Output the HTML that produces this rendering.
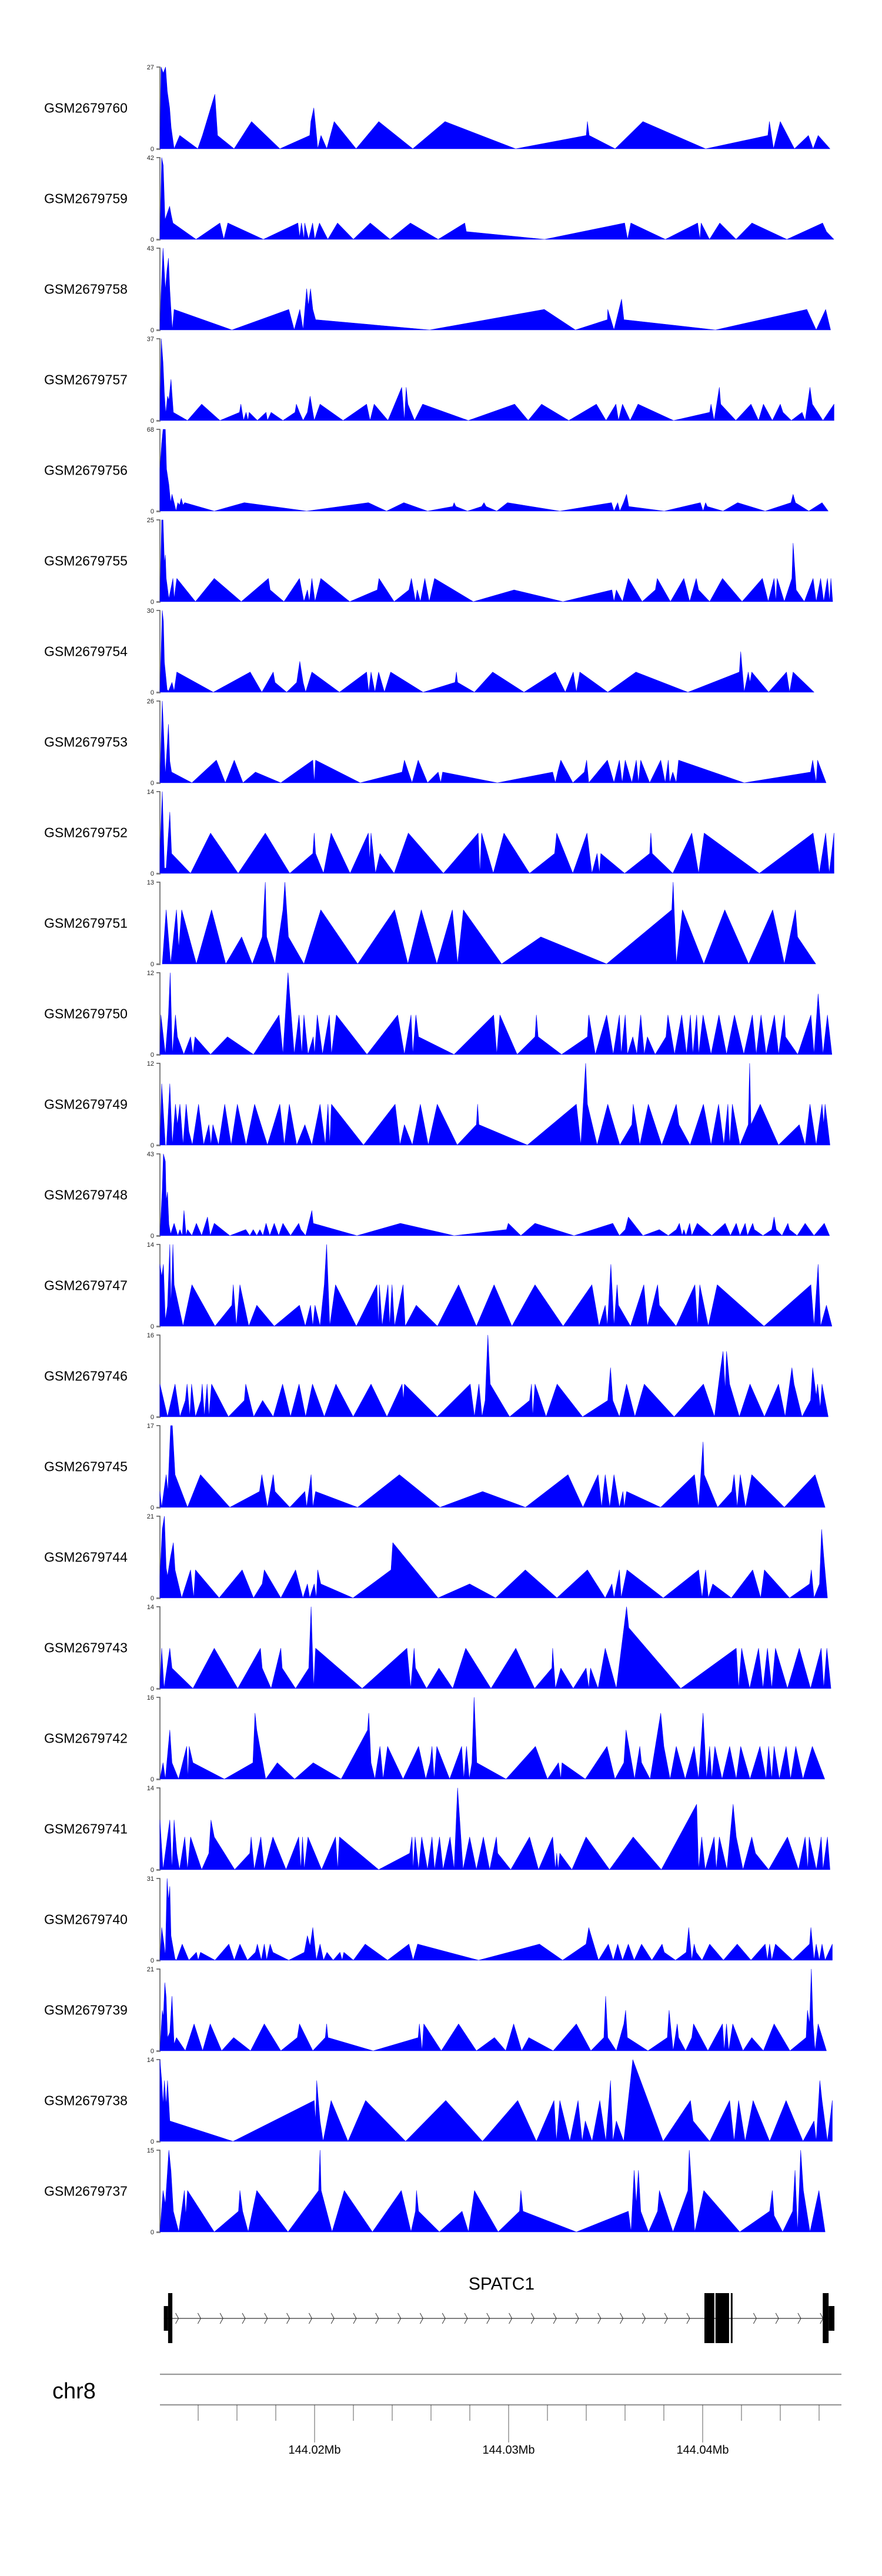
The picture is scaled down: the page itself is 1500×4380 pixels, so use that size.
<!DOCTYPE html>
<html><head><meta charset="utf-8"><title>Coverage tracks - SPATC1</title>
<style>
html,body{margin:0;padding:0;background:#fff;}
svg{display:block;font-family:"Liberation Sans",Arial,sans-serif;}
</style></head>
<body>
<svg id="chart" width="1500" height="4380" viewBox="0 0 1500 4380" xmlns="http://www.w3.org/2000/svg">
<rect x="0" y="0" width="1500" height="4380" fill="#fff"/>
<g id="tracks"></g>
<g id="gene"></g>
<g id="axis"></g>
</svg>
<script>
const sampleNames = ["GSM2679760","GSM2679759","GSM2679758","GSM2679757","GSM2679756","GSM2679755","GSM2679754","GSM2679753","GSM2679752","GSM2679751","GSM2679750","GSM2679749","GSM2679748","GSM2679747","GSM2679746","GSM2679745","GSM2679744","GSM2679743","GSM2679742","GSM2679741","GSM2679740","GSM2679739","GSM2679738","GSM2679737"];
const maxValues = [27,42,43,37,68,25,30,26,14,13,12,12,43,14,16,17,21,14,16,14,31,21,14,15];

const pos0=[12.03,12.09,12.20,12.32,12.41,12.53,12.61,12.76,13.05,13.98,14.22,14.86,15.00,15.85,16.75,18.21,19.75,19.81,19.96,20.10,20.16,20.33,20.63,21.01,22.14,23.31,25.06,26.72,30.36,34.00,34.06,34.15,35.49,36.92,40.15,43.36,43.44,43.65,44.00,44.73,45.45,45.69,45.95,46.56];
const val0=[0,27,25,27,19,13.5,7,0,4.4,0,4.4,18,4.4,0,9,0,4.4,9,13.5,4.4,0,4.4,0,9,0,9,0,9,0,4.4,9,4.4,0,9,0,4.4,9,0,9,0,4.4,0,4.4,0];
const pos1=[12.03,12.12,12.20,12.29,12.53,12.61,12.70,13.89,15.12,15.32,15.53,17.36,19.14,19.23,19.32,19.46,19.49,19.69,19.90,20.01,20.25,20.68,21.18,22.00,22.87,23.89,24.94,26.37,27.74,27.82,31.85,35.98,36.13,36.30,38.08,39.74,39.86,39.92,40.35,40.88,41.72,42.54,44.34,46.18,46.38,46.76];
const val1=[0,42,38,10,17,12.6,8.4,0,8.4,0,8.4,0,8.4,1,8.4,0,8.4,0,8.4,0,8.4,0,8.4,0,8.4,0,8.4,0,8.4,4,0,8.4,0,8.4,0,8.4,0,8.4,0,8.4,0,8.4,0,8.4,4,0];
const pos2=[12.03,12.08,12.19,12.31,12.40,12.47,12.54,12.60,12.67,12.76,15.74,18.67,18.95,19.24,19.41,19.59,19.68,19.79,19.91,20.05,25.93,31.84,33.44,35.09,35.11,35.43,35.82,35.94,40.66,45.37,45.85,46.34,46.59];
const val2=[0,17.8,43,21,32,37.7,21,10.6,0,10.8,0,10.8,0,10.8,0,21.7,12.6,21.7,10.8,5.4,0,10.8,0,5.4,10.8,0,16.2,5.4,0,10.8,0,10.8,0];
const pos3=[12.03,12.10,12.19,12.26,12.33,12.42,12.49,12.60,12.72,13.45,14.18,15.12,16.13,16.20,16.34,16.47,16.57,16.63,17.05,17.50,17.57,17.76,18.37,18.99,19.06,19.22,19.41,19.63,19.77,19.98,20.28,21.47,22.68,22.86,23.07,23.78,24.49,24.63,24.72,24.81,25.15,25.57,27.92,30.31,31.01,31.70,33.10,34.52,35.02,35.53,35.66,35.87,36.26,36.67,38.50,40.36,40.43,40.59,40.86,40.93,41.71,42.49,42.88,43.13,43.59,44.00,44.14,44.57,45.12,45.28,45.53,45.65,46.20,46.77];
const val3=[0,37,26,11.9,3,11,9.2,18.6,3.7,0,7.4,0,3.7,7.4,0,3.7,0,3.7,0,3.7,0,3.7,0,3.7,7.4,3.7,0,3.7,11,0,7.4,0,7.4,0,7.4,0,15,0,15,7.4,0,7.4,0,7.4,0,7.4,0,7.4,0,7.4,0,7.4,0,7.4,0,3.7,7.4,0,15,7.4,0,7.4,0,7.4,0,7.4,3.7,0,3.7,0,15,7.4,0,7.4];
const pos4=[12.03,12.12,12.19,12.31,12.37,12.49,12.58,12.65,12.76,12.86,12.95,13.04,13.13,13.22,13.31,14.83,16.38,19.59,22.77,23.71,24.60,25.82,27.12,27.19,27.28,27.88,28.61,28.73,28.84,29.39,29.94,32.64,35.30,35.43,35.62,35.73,35.92,36.08,36.19,38.02,39.88,40.02,40.15,40.24,41.05,41.80,43.22,44.55,44.66,44.78,45.47,46.15,46.47];
const val4=[35,56.5,68,68,35,22,7,14,7,0,7,5,10.6,5,7,0,7,0,7,0,7,0,3.8,7,3.8,0,3.8,7,3.8,0,7,0,7,0,7,0,7,14,3.8,0,7,0,7,3.8,0,7,0,7,14,7,0,7,0];
const pos5=[12.03,12.12,12.19,12.26,12.31,12.35,12.49,12.70,12.76,12.90,13.86,14.83,16.22,17.62,17.71,18.42,19.22,19.45,19.63,19.73,19.86,20.02,20.32,21.81,23.23,23.32,24.10,24.86,24.99,25.20,25.29,25.45,25.68,25.91,26.18,28.18,30.28,32.80,35.32,35.43,35.55,35.87,36.17,36.88,37.56,37.66,38.34,39.03,39.33,39.67,39.79,40.36,41.02,42.03,43.08,43.38,43.68,43.77,43.84,44.21,44.60,44.66,44.82,45.24,45.69,45.85,46.08,46.24,46.43,46.54,46.61,46.70];
const val5=[0,25,25,11.7,14.3,7.2,0.9,7.1,0.9,7.1,0,7.1,0,7.1,3.6,0,7.1,0,3.6,0,7.1,0,7.1,0,3.6,7.1,0,3.6,7.1,0,3.6,0,7.1,0,7.1,0,3.6,0,3.6,0,3.6,0,7.1,0,3.6,7.1,0,7.1,0,7.1,3.6,0,7.1,0,7.1,0,7.1,0,7.1,0,7.1,17.9,3.6,0,7.1,0,7.1,0,7.1,0,7.1,0];
const pos6=[12.03,12.15,12.21,12.26,12.40,12.47,12.65,12.76,12.90,14.78,16.68,17.28,17.87,17.96,18.56,19.08,19.24,19.41,19.54,19.86,21.28,22.68,22.79,22.91,23.11,23.30,23.60,23.92,25.59,27.24,27.31,27.37,28.24,29.18,30.79,32.41,32.92,33.33,33.49,33.67,35.11,36.56,39.24,41.89,41.96,42.14,42.35,42.44,42.53,43.40,44.32,44.48,44.66,45.74];
const val6=[0,30,26,11,1,0.4,3.6,0.4,7.4,0,7.4,0,7.4,3.6,0,3.6,11.3,3.6,0,7.4,0,7.4,0,7.4,0,7.4,0,7.4,0,3.6,7.4,3.6,0,7.4,0,7.4,0,7.4,0,7.4,0,7.4,0,7.4,14.9,0,7.4,3.6,7.4,0,7.4,0,7.4,0];
const pts7=[[12.03,0],[12.15,26],[12.21,17.6],[12.31,2.4],[12.40,11.3],[12.47,18.6],[12.54,6.8],[12.63,3.4],[13.68,0],[14.94,7.2],[15.40,0],[15.86,7.2],[16.31,0],[16.95,3.4],[18.26,0],[19.91,7.2],[19.98,0],[20.05,7.2],[22.35,0],[24.51,3.4],[24.63,7.2],[25.02,0],[25.34,7.2],[25.82,0],[26.37,3.4],[26.50,0],[26.60,3.4],[29.42,0],[32.27,3.4],[32.41,0],[32.53,3.4],[32.69,7.2],[33.31,0],[33.90,3.4],[34.02,7.2],[34.13,0],[35.09,7.2],[35.43,0],[35.71,7.2],[35.85,0],[36.01,7.2],[36.35,0],[36.58,7.2],[36.69,0],[36.81,7.2],[37.27,0],[37.84,7.2],[38.07,0],[38.23,7.2],[38.30,0],[38.46,3.4],[38.64,0],[38.76,7.2],[42.14,0],[45.56,3.4],[45.67,7.2],[45.85,0],[45.92,7.2],[46.36,0]];
const pos8=[12.03,12.15,12.26,12.35,12.54,12.63,13.61,14.64,16.06,17.46,18.72,19.91,19.98,20.05,20.46,20.85,21.83,22.77,22.84,22.91,23.14,23.37,24.10,24.83,26.64,28.43,28.52,28.61,29.21,29.76,31.08,32.37,32.48,33.31,34.04,34.29,34.56,34.68,34.75,35.98,37.27,37.33,37.40,38.46,39.44,39.79,40.08,42.92,45.69,46.01,46.34,46.52,46.77];
const val8=[3.4,14,0.9,0.9,10.5,3.4,0,6.9,0,6.9,0,3.4,6.9,3.4,0,6.9,0,6.9,2.1,6.9,0,3.4,0,6.9,0,6.9,0,6.9,0,6.9,0,3.4,6.9,0,6.9,0,3.4,0,3.4,0,3.4,6.9,3.4,0,6.9,0,6.9,0,6.9,0,6.9,0,6.9];
const pos9=[12.15,12.35,12.58,12.88,13.00,13.15,13.91,14.69,15.42,16.24,16.79,17.30,17.46,17.53,17.96,18.37,18.47,18.65,19.45,20.32,22.22,24.12,24.81,25.50,26.30,27.10,27.37,27.67,29.64,31.66,35.05,38.41,38.48,38.64,38.96,40.06,41.14,42.37,43.61,44.21,44.78,44.89,45.83];
const val9=[0,8.6,0,8.6,2.5,8.6,0,8.6,0,4.3,0,4.3,13,4.3,0,8.6,13,4.3,0,8.6,0,8.6,0,8.6,0,8.6,0,8.6,0,4.3,0,8.6,13,0,8.6,0,8.6,0,8.6,0,8.6,4.3,0];
const pos10=[12.03,12.08,12.31,12.47,12.56,12.67,12.83,12.93,13.26,13.61,13.73,13.84,14.64,15.51,16.85,18.17,18.37,18.63,18.95,19.20,19.34,19.45,19.66,19.93,20.00,20.14,20.41,20.76,20.87,21.12,22.70,24.28,24.63,24.97,25.06,25.22,25.36,27.19,29.23,29.39,29.55,30.44,31.36,31.43,31.52,32.73,34.06,34.13,34.47,35.05,35.39,35.71,35.80,36.01,36.12,36.40,36.61,36.81,36.99,37.15,37.55,38.11,38.21,38.55,38.92,39.17,39.37,39.49,39.69,39.79,40.02,40.43,40.84,41.23,41.64,42.12,42.56,42.76,43.01,43.27,43.70,43.91,44.21,44.27,44.90,45.58,45.74,45.95,46.20,46.43,46.66];
const val10=[0,5.8,0,5.8,12,0,5.8,2.6,0,2.6,0,2.6,0,2.6,0,5.8,0,12,0,5.8,0,5.8,0,2.6,0,5.8,0,5.8,0,5.8,0,5.8,0,5.8,0,5.8,2.6,0,5.8,0,5.8,0,2.6,5.8,2.6,0,2.6,5.8,0,5.8,0,5.8,0,5.8,0,2.6,0,5.8,0,2.6,0,2.6,5.8,0,5.8,0,5.8,0,5.8,0,5.8,0,5.8,0,5.8,0,5.8,0,5.8,0,5.8,0,5.8,2.6,0,5.8,0,8.9,0,5.8,0];
const pos11=[12.03,12.12,12.31,12.37,12.54,12.67,12.83,12.93,13.06,13.22,13.38,13.52,13.70,14.02,14.28,14.55,14.66,14.76,15.05,15.37,15.70,16.02,16.47,16.91,17.57,18.21,18.44,18.70,19.08,19.50,19.86,20.28,20.55,20.69,20.78,20.87,22.52,24.15,24.40,24.63,25.04,25.45,25.86,26.32,27.35,28.34,28.40,28.47,30.97,33.49,33.72,33.97,34.06,34.56,35.11,35.73,36.35,36.42,36.76,37.20,37.89,38.64,38.78,39.35,40.04,40.43,40.82,41.09,41.30,41.39,41.53,41.92,42.35,42.42,42.49,42.97,43.91,44.98,45.28,45.53,45.85,46.15,46.24,46.31,46.56];
const val11=[0,9,0,0,9,0,6,3,6,0,6,2,0,6,0,3,0,3,0,6,0,6,0,6,0,6,0,6,0,3,0,6,0,6,0,6,0,6,0,3,0,6,0,6,0,3,6,3,0,6,0,12,6,0,6,0,3,6,0,6,0,6,3,0,6,0,6,0,6,0,6,0,3,12,3,6,0,3,0,6,0,6,3,6,0];
const pos12=[12.03,12.15,12.21,12.31,12.35,12.42,12.49,12.58,12.76,12.95,13.06,13.18,13.27,13.38,13.45,13.68,13.91,14.18,14.48,14.62,14.83,15.63,16.45,16.66,16.84,17.02,17.18,17.34,17.50,17.69,17.92,18.15,18.37,18.76,19.18,19.29,19.54,19.86,19.93,22.18,24.42,27.19,29.89,29.98,30.63,31.36,33.37,35.37,35.71,36.01,36.17,36.92,37.77,38.23,38.64,38.80,38.94,39.03,39.14,39.33,39.44,39.72,40.47,41.16,41.43,41.73,41.92,42.19,42.31,42.58,42.67,43.11,43.56,43.68,43.79,44.09,44.39,44.48,44.87,45.28,45.74,46.27,46.54];
const val12=[0,24.6,43,39,18.4,23,6,0.8,6.5,0,3.2,0,13.2,0,3.2,0,6.5,0,9.8,0,6.5,0,3.2,0,3.2,0,3.2,0,6.5,0,6.5,0,6.5,0,6.5,3.2,0,13.2,6.5,0,6.5,0,3.2,6.5,0,6.5,0,6.5,0,3.2,9.8,0,3.2,0,3.2,6.5,0,3.2,0,6.5,0,6.5,0,6.5,0,6.5,0,6.5,0,6.5,3.2,0,3.2,9.8,3.2,0,6.5,3.2,0,6.5,0,6.5,0];
const pts13=[[12.03,10.6],[12.12,8.5],[12.21,10.6],[12.31,1],[12.42,3.5],[12.54,14],[12.60,3.5],[12.70,14],[12.76,7.1],[13.22,0],[13.68,7.1],[14.87,0],[15.74,3.6],[15.81,7.1],[15.97,0],[16.15,7.1],[16.61,0],[17.02,3.6],[17.92,0],[19.22,3.6],[19.52,0],[19.79,3.6],[19.91,0],[20.02,3.6],[20.28,0],[20.50,7.1],[20.62,14],[20.78,0],[21.08,7.1],[22.15,0],[23.21,7.1],[23.30,0],[23.34,7.1],[23.48,0],[23.78,7.1],[23.87,0],[23.99,7.1],[24.12,0],[24.56,7.1],[24.67,0],[25.24,3.6],[26.33,0],[27.42,7.1],[28.34,0],[29.25,7.1],[30.17,0],[31.36,7.1],[32.81,0],[34.29,7.1],[34.66,0],[34.98,3.6],[35.09,0],[35.27,10.6],[35.43,0],[35.59,7.1],[35.66,3.6],[36.28,0],[36.97,7.1],[37.15,0],[37.68,7.1],[37.77,3.6],[38.63,0],[39.60,7.1],[39.74,0],[39.85,7.1],[40.29,0],[40.75,7.1],[43.16,0],[45.58,7.1],[45.74,0],[45.95,10.6],[46.08,0],[46.38,3.6],[46.66,0]];
const pos14=[12.03,12.42,12.81,13.06,13.34,13.43,13.57,13.66,13.86,14.14,14.21,14.32,14.46,14.55,14.69,15.56,16.38,16.45,16.86,17.32,17.87,18.35,18.76,19.20,19.54,19.89,20.50,21.10,21.99,22.91,23.73,24.51,24.58,24.63,26.32,28.02,28.24,28.47,28.63,28.79,28.93,29.05,30.05,31.08,31.18,31.24,31.36,31.93,32.50,33.81,35.11,35.25,35.37,35.71,36.08,36.51,36.99,38.53,40.04,40.61,40.93,41.05,41.16,41.23,41.39,41.89,42.44,43.18,43.91,44.25,44.60,44.71,45.12,45.56,45.67,45.85,45.92,46.06,46.15,46.47];
const val14=[6.4,0,6.4,0,3.2,6.4,0,6.4,0,3.2,6.4,0,6.4,0,6.4,0,3.2,6.4,0,3.2,0,6.4,0,6.4,0,6.4,0,6.4,0,6.4,0,6.4,3.2,6.4,0,6.4,0,6.4,0,3.2,16,6.4,0,3.2,6.4,0,6.4,0,6.4,0,3.2,9.6,3.2,0,6.4,0,6.4,0,6.4,0,9.6,12.8,5.2,12.8,6.4,0,6.4,0,6.4,0,9.6,6.4,0,3.2,9.6,4.1,6.4,1.7,6.4,0];
const pos15=[12.03,12.12,12.35,12.44,12.58,12.67,12.81,13.45,14.12,15.63,17.16,17.28,17.57,17.87,17.96,18.72,19.50,19.59,19.82,19.91,20.05,22.22,24.37,26.46,28.66,30.87,33.06,33.83,34.61,34.79,34.98,35.21,35.43,35.71,35.89,35.96,36.08,37.84,39.58,39.79,40.02,40.08,40.77,41.50,41.62,41.78,41.94,42.21,42.53,44.21,45.79,46.31];
const val15=[3.3,0,6.8,3.3,17,17,6.8,0,6.8,0,3.3,6.8,0,6.8,3.3,0,3.3,0,6.8,0,3.3,0,6.8,0,3.3,0,6.8,0,6.8,0,6.8,0,6.8,0,3.3,0,3.3,0,6.8,0,13.6,6.8,0,3.3,6.8,0,6.8,0,6.8,0,6.8,0];
const pts16=[[12.03,5.6],[12.15,17.7],[12.26,21],[12.35,7.7],[12.42,5.6],[12.58,10.7],[12.72,14.2],[12.81,7.2],[13.15,0],[13.61,7.2],[13.77,0],[13.86,7.2],[15.08,0],[16.27,7.2],[16.85,0],[17.30,3.6],[17.41,7.2],[18.26,0],[19.02,7.2],[19.40,0],[19.63,3.6],[19.75,0],[19.98,3.6],[20.09,0],[20.16,7.2],[20.32,3.6],[21.98,0],[23.94,7.2],[24.03,14.2],[26.36,0],[27.99,3.6],[29.33,0],[30.86,7.2],[32.49,0],[34.06,7.2],[34.98,0],[35.32,3.6],[35.43,0],[35.71,7.2],[35.80,0],[36.10,7.2],[37.97,0],[39.79,7.2],[39.97,0],[40.15,7.2],[40.29,0],[40.52,3.6],[41.48,0],[42.58,7.2],[42.99,0],[43.18,7.2],[44.48,0],[45.51,3.6],[45.60,7.2],[45.74,0],[46.02,3.6],[46.13,17.6],[46.24,10.7],[46.43,0]];
const pos17=[12.03,12.12,12.24,12.54,12.65,13.73,14.83,16.04,17.21,17.30,17.76,18.26,18.33,19.02,19.70,19.82,19.95,20.05,22.45,24.76,24.95,25.13,25.20,25.77,26.41,27.12,27.79,29.09,30.37,31.34,32.23,32.27,32.41,32.69,33.33,33.99,34.13,34.22,34.61,34.98,35.55,36.08,36.19,38.87,41.73,41.85,42.01,42.42,42.88,43.11,43.34,43.56,43.75,44.37,44.98,45.56,46.11,46.24,46.40,46.61];
const val17=[0,6.9,0,6.9,3.5,0,6.9,0,6.9,3.5,0,6.9,3.5,0,3.5,14,0,6.9,0,6.9,0,6.9,3.5,0,3.5,0,6.9,0,6.9,0,3.5,6.9,0,3.5,0,3.5,0,3.5,0,6.9,0,14,10.4,0,6.9,0,6.9,0,6.9,0,6.9,0,6.9,0,6.9,0,6.9,0,6.9,0];
const pos18=[12.03,12.19,12.31,12.54,12.65,12.99,13.41,13.47,13.54,13.73,15.35,16.82,16.93,17.02,17.48,18.08,18.97,19.93,21.37,22.73,22.79,22.91,23.11,23.37,23.53,23.76,24.56,25.36,25.73,25.95,26.05,26.16,26.30,26.96,27.58,27.69,27.83,27.97,28.11,28.22,28.36,29.87,31.38,32.00,32.57,32.69,32.75,33.95,35.07,35.48,35.94,36.05,36.49,36.76,36.85,37.29,37.84,38.00,38.32,38.64,39.10,39.56,39.79,40.02,40.20,40.36,40.47,40.63,41.00,41.39,41.73,41.96,42.44,42.95,43.27,43.40,43.56,43.68,43.95,44.30,44.53,44.80,45.17,45.65,46.29];
const val18=[0,3.2,0,9.6,3.2,0,6.4,0,6.4,3.2,0,3.2,12.9,9.6,0,3.2,0,3.2,0,9.6,12.9,3.2,0,6.4,0,6.4,0,6.4,0,3.2,6.4,0,6.4,0,6.4,0,6.4,0,3.2,16,3.2,0,6.4,0,3.2,0,3.2,0,6.4,0,3.2,9.6,0,6.4,3.2,0,12.9,6.4,0,6.4,0,6.4,0,12.9,0,6.4,0,6.4,0,6.4,0,6.4,0,6.4,0,6.4,0,6.4,0,6.4,0,6.4,0,6.4,0];
const pts19=[[12.03,8.5],[12.19,0],[12.54,8.5],[12.65,0],[12.76,8.5],[12.90,2.8],[13.04,0],[13.31,5.6],[13.45,0],[13.61,5.6],[14.18,0],[14.55,2.8],[14.66,8.5],[14.83,5.6],[15.88,0],[16.66,2.8],[16.73,5.6],[16.89,0],[17.23,5.6],[17.41,0],[17.85,5.6],[18.53,0],[19.18,5.6],[19.29,0],[19.38,5.6],[19.47,0],[19.66,5.6],[20.36,0],[21.08,5.6],[21.19,0],[21.28,5.6],[23.30,0],[24.90,2.8],[25.02,5.6],[25.08,0],[25.18,5.6],[25.36,0],[25.52,5.6],[25.82,0],[26.05,5.6],[26.18,0],[26.44,5.6],[26.62,0],[26.98,5.6],[27.19,0],[27.37,14],[27.65,0],[27.99,5.6],[28.34,0],[28.70,5.6],[29.02,0],[29.37,5.6],[29.44,2.8],[30.11,0],[31.08,5.6],[31.54,0],[32.27,5.6],[32.41,0],[32.48,2.8],[32.55,0],[32.64,2.8],[33.26,0],[33.99,5.6],[35.20,0],[36.42,5.6],[37.87,0],[39.69,11.2],[39.79,0],[39.95,5.6],[40.13,0],[40.59,5.6],[40.70,0],[40.86,5.6],[41.25,0],[41.57,11.2],[41.73,5.6],[42.08,0],[42.53,5.6],[42.72,2.8],[43.40,0],[44.37,5.6],[44.94,0],[45.28,5.6],[45.42,0],[45.49,5.6],[45.86,0],[46.11,5.6],[46.20,0],[46.43,5.6],[46.56,0]];
const pos20=[12.03,12.12,12.24,12.31,12.40,12.47,12.54,12.60,12.81,12.88,13.18,13.52,13.91,14.00,14.12,14.87,15.58,15.86,16.15,16.54,16.95,17.05,17.25,17.41,17.53,17.71,17.85,18.67,19.47,19.63,19.77,19.91,20.09,20.28,20.46,20.64,20.96,21.31,21.42,21.51,22.00,22.61,23.76,24.86,25.08,25.31,28.45,31.59,32.78,33.99,34.13,34.63,35.14,35.39,35.62,35.87,36.17,36.47,36.85,37.38,37.91,38.02,38.60,39.15,39.28,39.44,39.56,39.67,39.97,40.36,41.07,41.78,42.49,43.22,43.34,43.45,43.56,43.75,44.64,45.51,45.58,45.74,45.85,46.01,46.15,46.31,46.68];
const val20=[0,12.4,6.1,1.6,31,22.6,28,9.3,0.5,0,6.1,0,3,0,3,0,6.1,0,6.1,0,3,6.1,0,6.1,0,6.1,3,0,3,9.3,5.4,12.4,0,6.1,0,3,0,3,0,3,0,6.1,0,6.1,0,6.1,0,6.1,0,6.1,12.4,0,6.1,0,6.1,0,6.1,0,6.1,0,6.1,3,0,3,12.4,0,6.1,3,0,6.1,0,6.1,0,6.1,0,6.1,0,6.1,0,6.1,12.4,0,6.1,0,6.1,0,6.1];
const pos21=[12.03,12.15,12.21,12.28,12.35,12.42,12.54,12.65,12.76,12.88,13.34,13.79,14.23,14.62,15.21,15.83,16.70,17.41,18.26,19.11,19.22,19.91,20.55,20.62,20.69,23.02,25.34,25.40,25.54,25.63,26.53,27.42,28.34,29.27,29.85,30.26,30.67,31.04,32.30,33.49,34.24,34.91,35.00,35.11,35.55,35.94,36.03,36.12,37.18,38.18,38.27,38.48,38.69,38.76,39.12,39.44,39.53,40.27,41.02,41.11,41.23,41.34,41.55,42.08,42.53,43.13,43.68,44.50,45.33,45.40,45.51,45.60,45.69,45.79,45.95,46.38];
const val21=[0,10.4,8.7,17.5,13.8,3.4,4.7,14,1.7,3.4,0,6.9,0,6.9,0,3.4,0,6.9,0,3.4,6.9,0,3.4,6.9,3.4,0,3.4,6.9,0,6.9,0,6.9,0,3.4,0,6.9,0,3.4,0,6.9,0,3.4,14,3.4,0,6.9,10.4,3.4,0,3.4,10.4,0,6.9,3.4,0,3.4,6.9,0,6.9,0,6.9,0,6.9,0,3.4,0,6.9,0,3.4,10.4,6.9,21,6.9,0,6.9,0];
const pts22=[[12.03,14],[12.12,10.4],[12.19,6.2],[12.26,10.4],[12.35,6.2],[12.42,10.4],[12.54,3.5],[15.80,0],[19.98,7],[20.05,3.4],[20.11,10.4],[20.28,3.5],[20.44,0],[20.85,7],[21.72,0],[22.63,7],[24.69,0],[26.76,7],[28.65,0],[30.47,7],[31.43,0],[32.34,7],[32.46,0],[32.64,7],[33.15,0],[33.58,7],[33.79,0],[33.95,3.5],[34.30,0],[34.70,7],[35.01,0],[35.25,10.4],[35.37,0],[35.55,3.5],[35.93,0],[36.40,14],[37.96,0],[39.37,7],[39.51,3.5],[40.36,0],[41.39,7],[41.62,0],[41.85,7],[42.19,0],[42.60,7],[43.45,0],[44.30,7],[45.17,0],[45.74,3.5],[45.85,0],[46.04,10.4],[46.15,7],[46.43,0],[46.68,7]];
const pts23=[[12.03,0],[12.19,7.6],[12.31,5.1],[12.49,15],[12.60,11.2],[12.72,3.8],[13.00,0],[13.29,7.6],[13.36,3],[13.45,7.6],[14.83,0],[16.08,3.8],[16.15,7.6],[16.29,3.8],[16.58,0],[17.02,7.6],[18.63,0],[20.21,7.6],[20.28,15],[20.34,7.6],[20.90,0],[21.53,7.6],[22.98,0],[24.47,7.6],[24.97,0],[25.20,3.8],[25.25,7.6],[25.36,3.8],[26.43,0],[27.60,3.8],[27.93,0],[28.24,7.6],[29.46,0],[30.56,3.8],[30.63,7.6],[30.74,3.8],[33.49,0],[36.17,3.8],[36.31,0],[36.47,11.3],[36.58,5.1],[36.69,11.3],[36.81,3.8],[37.21,0],[37.68,3.8],[37.77,7.6],[38.47,0],[39.24,7.6],[39.31,15],[39.59,0],[40.06,7.6],[41.91,0],[43.45,3.8],[43.59,7.6],[43.68,3],[44.12,0],[44.64,3.8],[44.76,11.3],[44.89,0],[44.98,7.6],[45.05,15],[45.19,7.6],[45.53,0],[45.99,7.6],[46.31,0]];

function splitPos(p){return p.map(a=>a[0]);}
function splitVal(p){return p.map(a=>a[1]);}
const trackPositions=[pos0,pos1,pos2,pos3,pos4,pos5,pos6,splitPos(pts7),pos8,pos9,pos10,pos11,pos12,splitPos(pts13),pos14,pos15,splitPos(pts16),pos17,pos18,splitPos(pts19),pos20,pos21,splitPos(pts22),splitPos(pts23)];
const trackValues=[val0,val1,val2,val3,val4,val5,val6,splitVal(pts7),val8,val9,val10,val11,val12,splitVal(pts13),val14,val15,splitVal(pts16),val17,val18,splitVal(pts19),val20,val21,splitVal(pts22),splitVal(pts23)];

// gene model (kb offset from 144.000 Mb)
const geneName = "SPATC1";
const geneStartKb = 12.23;
const geneEndKb = 46.79;
const utrBlocks = [[12.23,12.45],[46.49,46.79]];
const cdsBlocks = [[12.45,12.67],[40.09,40.60],[40.66,41.36],[41.45,41.54],[46.19,46.49]];
const majorTicksKb = [20,30,40];
const majorTickLabels = ["144.02Mb","144.03Mb","144.04Mb"];
const minorTicksKb = [14,16,18,22,24,26,28,32,34,36,38,42,44,46];

const NS="http://www.w3.org/2000/svg";
const X0=272, KB0=12.03, PXPERKB=33;
function xScale(kb){return X0+(kb-KB0)*PXPERKB;}
const TRACK_TOP=114, TRACK_H=139, TRACK_PITCH=154;
function mk(tag,attrs,parent){const e=document.createElementNS(NS,tag);for(const k in attrs)e.setAttribute(k,attrs[k]);parent.appendChild(e);return e;}

const gT=document.getElementById('tracks');
sampleNames.forEach((name,i)=>{
  const top=TRACK_TOP+i*TRACK_PITCH, base=top+TRACK_H, mx=maxValues[i];
  const yScale=v=>base-(v/mx)*TRACK_H;
  const g=mk('g',{},gT);
  
  
  const lab=mk('text',{x:75,y:top+TRACK_H/2+8,'font-size':23,fill:'#000'},g);
  
  
  lab.textContent=name;
  const ax=mk('path',{d:`M266,${top}H272V${base}H266`,stroke:'#555',fill:'none','stroke-width':1.5},g);
  
  
  const z=mk('rect',{x:266,y:base-1,width:7,height:3,fill:'#888'},g);
  
  
  const tMax=mk('text',{x:262,y:top+4,'font-size':11,'text-anchor':'end',fill:'#222'},g);
  
  
  tMax.textContent=String(mx);
  const t0=mk('text',{x:262,y:base+4,'font-size':11,'text-anchor':'end',fill:'#222'},g);
  
  
  t0.textContent='0';
  const P=trackPositions[i], V=trackValues[i];
  const n=Math.min(P.length,V.length);
  let d=`M${xScale(P[0]).toFixed(1)},${base}`;
  for(let k=0;k<n;k++){d+=`L${xScale(P[k]).toFixed(1)},${yScale(Math.min(V[k],mx)).toFixed(1)}`;}
  d+=`L${xScale(P[n-1]).toFixed(1)},${base}Z`;
  const area=mk('path',{d:d,fill:'#0000ff',stroke:'#0000ff','stroke-width':0.6,'stroke-linejoin':'round'},g);
  
  
});

// gene track
const gG=document.getElementById('gene');
const gy=3942;
const gl=mk('text',{x:853,y:3893,'font-size':30,'text-anchor':'middle',fill:'#000'},gG);


gl.textContent=geneName;
const intron=mk('line',{x1:xScale(geneStartKb),y1:gy,x2:xScale(geneEndKb),y2:gy,stroke:'#333','stroke-width':1.3},gG);


for(let x=xScale(geneStartKb)+20;x<xScale(geneEndKb)-4;x+=37.8){
  if(x>xScale(cdsBlocks[1][0])-8 && x<xScale(cdsBlocks[3][1])+4) continue;
  const c=mk('path',{d:`M${x.toFixed(1)},${gy-9}L${(x+5).toFixed(1)},${gy}L${x.toFixed(1)},${gy+9}`,stroke:'#333',fill:'none','stroke-width':1},gG);
  
  
}
utrBlocks.forEach(b=>{
  const r=mk('rect',{x:xScale(b[0]),y:gy-21,width:xScale(b[1])-xScale(b[0]),height:42,fill:'#000'},gG);
  
  
});
cdsBlocks.forEach(b=>{
  const r=mk('rect',{x:xScale(b[0]),y:gy-43,width:xScale(b[1])-xScale(b[0]),height:85,fill:'#000'},gG);
  
  
});

// genome axis
const gA=document.getElementById('axis');
const chr=mk('text',{x:89,y:4078,'font-size':38,fill:'#000'},gA);


chr.textContent='chr8';
[4037,4089].forEach((y,j)=>{
  const l=mk('line',{x1:272,y1:y,x2:1431,y2:y,stroke:'#999','stroke-width':2.2},gA);
  
  
});
minorTicksKb.forEach(k=>{
  const t=mk('line',{x1:xScale(k),y1:4089,x2:xScale(k),y2:4116,stroke:'#333','stroke-width':0.8},gA);
  
  
});
majorTicksKb.forEach((k,j)=>{
  const t=mk('line',{x1:xScale(k),y1:4089,x2:xScale(k),y2:4153,stroke:'#333','stroke-width':0.8},gA);
  
  
  const lb=mk('text',{x:xScale(k),y:4172,'font-size':20,'text-anchor':'middle',fill:'#000'},gA);
  
  
  lb.textContent=majorTickLabels[j];
});
</script>
</body></html>
